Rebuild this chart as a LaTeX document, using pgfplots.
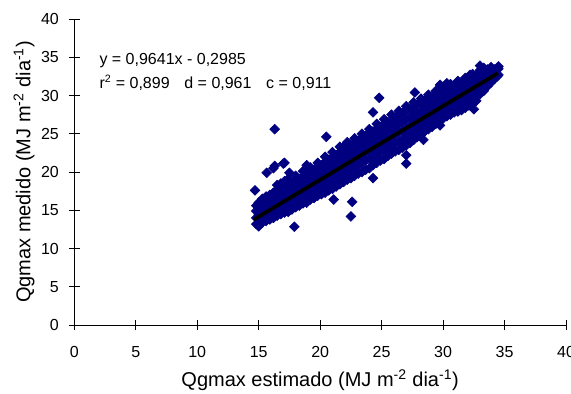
\documentclass[border=0pt]{standalone}
\usepackage{pgfplots}
\pgfplotsset{compat=1.18}
\usepackage{fontspec}
\setmainfont{Liberation Sans}
\definecolor{navy}{RGB}{0,0,128}
\begin{document}
\begin{tikzpicture}
\begin{axis}[
  at={(0,0)}, anchor=south west,
  set layers,
  scale only axis, width=368.8pt, height=229.5pt,
  xmin=0, xmax=40, ymin=0, ymax=40,
  xtick={0,5,...,40}, ytick={0,5,...,40},
  axis x line*=bottom, axis y line*=left,
  axis line style={-, black, line width=0.6pt},
  tick align=center, major tick length=8pt,
  tick style={black, line width=0.6pt},
  /pgf/number format/assume math mode=true,
  tick label style={font=\fontsize{12}{14.4}\selectfont},
  xticklabel style={yshift=-8.5pt},
  yticklabel style={xshift=-4pt},
  every axis x label/.style={at={(axis description cs:0.5,0)}, anchor=base, yshift=-46pt, font=\fontsize{15}{18}\selectfont},
  every axis y label/.style={at={(axis description cs:0,0.5)}, xshift=-33pt, rotate=90, anchor=base, font=\fontsize{15}{18}\selectfont},
  xlabel={Qgmax estimado (MJ m\textsuperscript{-2} dia\textsuperscript{-1})},
  ylabel={Qgmax medido (MJ m\textsuperscript{-2} dia\textsuperscript{-1})},
  clip=false,
]
\addplot[only marks, mark=square*, mark size=2.6pt, mark options={rotate=45, fill=navy, draw=navy}] coordinates {
(14.8,13.2) (14.8,14.0) (14.8,14.9) (14.8,15.6)
(15.0,13.1) (15.0,13.8) (15.0,14.5) (15.0,15.3) (15.0,16.0)
(15.3,13.4) (15.3,14.2) (15.3,15.0) (15.3,15.8) (15.3,16.5)
(15.6,13.6) (15.6,14.4) (15.6,15.2) (15.6,16.0) (15.6,16.8)
(15.9,13.8) (15.9,14.6) (15.9,15.4) (15.9,16.2) (15.9,17.0)
(16.2,14.0) (16.2,14.8) (16.2,15.6) (16.2,16.4) (16.2,17.3)
(16.5,14.3) (16.5,15.1) (16.5,15.9) (16.5,16.7) (16.5,17.6) (16.5,18.3)
(16.8,14.5) (16.8,15.3) (16.8,16.1) (16.8,16.9) (16.8,17.8) (16.8,18.5)
(17.1,14.7) (17.1,15.6) (17.1,16.4) (17.1,17.2) (17.1,18.0) (17.1,18.8)
(17.4,14.8) (17.4,15.7) (17.4,16.6) (17.4,17.5) (17.4,18.3) (17.4,19.1)
(17.7,15.1) (17.7,16.0) (17.7,16.9) (17.7,17.7) (17.7,18.6)
(18.0,15.4) (18.0,16.3) (18.0,17.2) (18.0,18.0) (18.0,18.9) (18.0,19.5)
(18.3,15.6) (18.3,16.5) (18.3,17.4) (18.3,18.3) (18.3,19.1)
(18.6,15.9) (18.6,16.8) (18.6,17.7) (18.6,18.6) (18.6,19.4) (18.6,20.1)
(18.9,16.0) (18.9,17.0) (18.9,18.0) (18.9,18.9) (18.9,19.7)
(19.2,16.4) (19.2,17.3) (19.2,18.2) (19.2,19.1) (19.2,20.0) (19.2,20.6)
(19.5,16.6) (19.5,17.6) (19.5,18.5) (19.5,19.4) (19.5,20.3)
(19.8,16.9) (19.8,17.8) (19.8,18.8) (19.8,19.7) (19.8,20.6) (19.8,21.2)
(20.1,17.1) (20.1,18.1) (20.1,19.1) (20.1,20.0) (20.1,20.9)
(20.4,17.3) (20.4,18.3) (20.4,19.3) (20.4,20.3) (20.4,21.3) (20.4,22.0)
(20.7,17.6) (20.7,18.6) (20.7,19.6) (20.7,20.6) (20.7,21.6)
(21.0,17.8) (21.0,18.9) (21.0,19.9) (21.0,20.9) (21.0,21.9) (21.0,22.6)
(21.3,18.1) (21.3,19.2) (21.3,20.2) (21.3,21.2) (21.3,22.2)
(21.6,18.4) (21.6,19.5) (21.6,20.5) (21.6,21.5) (21.6,22.6) (21.6,23.3)
(21.9,18.7) (21.9,19.8) (21.9,20.8) (21.9,21.8) (21.9,22.9)
(22.2,19.0) (22.2,20.0) (22.2,21.1) (22.2,22.1) (22.2,23.1) (22.2,23.9)
(22.5,19.2) (22.5,20.3) (22.5,21.4) (22.5,22.4) (22.5,23.5)
(22.8,19.5) (22.8,20.6) (22.8,21.7) (22.8,22.7) (22.8,23.8) (22.8,24.4)
(23.1,19.8) (23.1,20.9) (23.1,22.0) (23.1,23.0) (23.1,24.1)
(23.4,20.0) (23.4,21.2) (23.4,22.3) (23.4,23.3) (23.4,24.4) (23.4,25.0)
(23.7,20.3) (23.7,21.5) (23.7,22.6) (23.7,23.6) (23.7,24.7)
(24.0,20.5) (24.0,21.7) (24.0,22.8) (24.0,23.9) (24.0,25.0) (24.0,25.6)
(24.3,20.9) (24.3,22.0) (24.3,23.1) (24.3,24.2) (24.3,25.3)
(24.6,21.2) (24.6,22.3) (24.6,23.4) (24.6,24.5) (24.6,25.6) (24.6,26.3)
(24.9,21.5) (24.9,22.6) (24.9,23.7) (24.9,24.8) (24.9,25.9)
(25.2,21.7) (25.2,22.9) (25.2,24.0) (25.2,25.1) (25.2,26.2) (25.2,26.9)
(25.5,22.1) (25.5,23.2) (25.5,24.3) (25.5,25.4) (25.5,26.5)
(25.8,22.4) (25.8,23.5) (25.8,24.6) (25.8,25.7) (25.8,26.8) (25.8,27.5)
(26.1,22.7) (26.1,23.8) (26.1,24.9) (26.1,26.0) (26.1,27.1)
(26.4,22.9) (26.4,24.0) (26.4,25.2) (26.4,26.3) (26.4,27.4) (26.4,28.0)
(26.7,23.2) (26.7,24.3) (26.7,25.4) (26.7,26.6) (26.7,27.7)
(27.0,23.5) (27.0,24.6) (27.0,25.7) (27.0,26.9) (27.0,28.0) (27.0,28.6)
(27.3,23.8) (27.3,24.9) (27.3,26.0) (27.3,27.1) (27.3,28.2)
(27.6,24.2) (27.6,25.3) (27.6,26.3) (27.6,27.4) (27.6,28.5) (27.6,29.1)
(27.9,24.6) (27.9,25.6) (27.9,26.6) (27.9,27.7) (27.9,28.8)
(28.2,24.9) (28.2,25.9) (28.2,26.9) (28.2,27.9) (28.2,29.0) (28.2,29.6)
(28.5,25.3) (28.5,26.2) (28.5,27.2) (28.5,28.2) (28.5,29.3)
(28.8,25.6) (28.8,26.5) (28.8,27.5) (28.8,28.5) (28.8,29.5) (28.8,30.1)
(29.1,25.9) (29.1,26.9) (29.1,27.8) (29.1,28.8) (29.1,29.8)
(29.4,26.3) (29.4,27.2) (29.4,28.1) (29.4,29.1) (29.4,30.0) (29.4,30.6)
(29.7,26.7) (29.7,27.6) (29.7,28.5) (29.7,29.4) (29.7,30.3)
(30.0,27.0) (30.0,27.9) (30.0,28.8) (30.0,29.7) (30.0,30.6) (30.0,31.1)
(30.3,27.3) (30.3,28.2) (30.3,29.1) (30.3,30.0) (30.3,30.8)
(30.6,27.5) (30.6,28.4) (30.6,29.3) (30.6,30.2) (30.6,31.0) (30.6,31.5)
(30.9,27.8) (30.9,28.6) (30.9,29.5) (30.9,30.4) (30.9,31.2)
(31.2,27.9) (31.2,28.8) (31.2,29.7) (31.2,30.6) (31.2,31.4) (31.2,31.9)
(31.5,28.1) (31.5,29.0) (31.5,29.9) (31.5,30.8) (31.5,31.6)
(31.8,28.4) (31.8,29.3) (31.8,30.2) (31.8,31.0) (31.8,31.8) (31.8,32.3)
(32.1,28.7) (32.1,29.6) (32.1,30.4) (32.1,31.2) (32.1,32.0)
(32.4,29.0) (32.4,29.9) (32.4,30.7) (32.4,31.5) (32.4,32.3) (32.4,32.8)
(32.7,29.3) (32.7,30.2) (32.7,31.0) (32.7,31.8) (32.7,32.6)
(33.0,30.2) (33.0,31.0) (33.0,31.8) (33.0,32.6) (33.0,33.3)
(33.3,30.6) (33.3,31.4) (33.3,32.1) (33.3,32.9) (33.3,33.6)
(33.6,31.2) (33.6,32.0) (33.6,32.7) (33.6,33.4)
(33.9,31.7) (33.9,32.4) (33.9,33.1) (33.9,33.7)
(34.2,32.2) (34.2,32.8) (34.2,33.4)
(34.5,32.7) (34.5,33.5)
(14.7,17.6) (15.65,19.9) (16.3,20.8) (17.1,21.2) (17.5,19.9) (18.9,20.9)
(15.0,12.9) (17.9,12.85) (16.3,25.6) (20.5,24.6) (21.1,16.4) (22.6,16.1)
(22.5,14.2) (24.3,27.8) (24.8,29.7) (27.7,30.4) (27.0,21.1) (24.3,19.2)
(32.5,28.2) (32.5,29.4) (33.0,33.9) (34.5,33.8) (34.4,32.6)
(26.5,27.7) (25.4,26.6) (21.9,23.3) (23.8,24.4) (17.0,21.1) (16.2,20.5)
(29.75,31.4) (30.3,31.6) (32.2,32.7) (27.0,22.2) (28.4,24.2) (29.75,26.1)
(34.4,32.5) (20.3,17.6)
};
\addplot[black, line width=2.8pt, no marks, on layer=axis foreground] coordinates {(14.6,13.78) (34.45,32.91)};
\node[anchor=base west, font=\fontsize{12}{14.4}\selectfont, inner sep=0pt] at (axis cs:2.03,34.08) {y = 0,9641x - 0,2985};
\node[anchor=base west, font=\fontsize{12}{14.4}\selectfont, inner sep=0pt] at (axis cs:2.03,30.94) {r\textsuperscript{2} = 0,899\hspace{11pt}d = 0,961\hspace{11pt}c = 0,911};
\end{axis}
\pgfresetboundingbox
\path[use as bounding box] (-55.7pt,-51pt) rectangle (372.5pt,243.75pt);
\end{tikzpicture}
\end{document}
